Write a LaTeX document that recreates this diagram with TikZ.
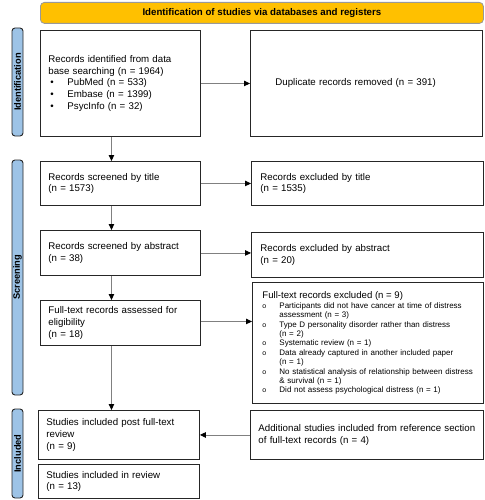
\documentclass[tikz,border=0pt]{standalone}
\usepackage{fontspec}
\setmainfont{Liberation Sans}
\usetikzlibrary{arrows.meta,calc}
\definecolor{bannerfill}{HTML}{FFC000}
\definecolor{sidefill}{HTML}{9DC3E6}
\definecolor{arrgray}{HTML}{808080}
\newcommand{\mybul}{\makebox[19pt][l]{\hspace{2pt}\textbullet}}
\newcommand{\mycirc}{\makebox[17pt][l]{{\fontsize{7}{7}\selectfont o}}}
\newcommand{\itm}[1]{\mbox{\mycirc #1}}
\newcommand{\cnt}[1]{\mbox{\hspace*{17pt}#1}}
\begin{document}
\begin{tikzpicture}[x=1pt,y=-1pt,
  box/.style={draw=black!85, line width=0.9pt, anchor=north west, align=left,
    inner xsep=8pt, inner ysep=2pt, font=\fontsize{9.7}{11.7}\selectfont},
  side/.style={draw=black!85, line width=0.9pt, fill=sidefill, rounded corners=3pt,
    font=\bfseries\fontsize{9.3}{10}\selectfont, rotate=90, inner sep=0.5pt,
    minimum height=11},
  banner/.style={draw=black!40, line width=0.8pt, fill=bannerfill, rounded corners=4pt,
    font=\bfseries\fontsize{9.7}{11}\selectfont, anchor=north west},
  arr/.style={draw=arrgray, line width=0.9pt, -{Triangle[length=6pt,width=5.5pt,color=black]}}
]
\useasboundingbox (0,0) rectangle (484,500);

\node[banner, minimum width=443, minimum height=21] (top) at (40,2)
  {Identification of studies via databases and registers};

\node[side, minimum width=108] (s1) at (17.5,82) {Identification};
\node[side, minimum width=235] (s2) at (17.5,277.5) {Screening};
\node[side, minimum width=89] (s3) at (17.5,453.5) {Included};

\node[box, minimum height=106, text width=144] (b1) at (40,30)
  {Records identified from data\\
   base searching (n = 1964)\\
   \mybul PubMed (n = 533)\\
   \mybul Embase (n = 1399)\\
   \mybul PsycInfo (n = 32)\\[-3pt]};
\node[box, minimum height=106, inner xsep=25pt, text width=182] (b2) at (250,30)
  {Duplicate records removed (n = 391)};

\node[box, minimum height=44, text width=144] (b3) at (40,161)
  {Records screened by title\\(n = 1573)};
\node[box, minimum height=44, inner xsep=9pt, text width=214] (b4) at (251,161)
  {Records excluded by title\\(n = 1535)};

\node[box, minimum height=45, text width=144] (b5) at (40,230)
  {Records screened by abstract\\(n = 38)};
\node[box, minimum height=45, inner xsep=9pt, text width=214] (b6) at (251,232)
  {Records excluded by abstract\\(n = 20)};

\node[box, minimum height=45, text width=144] (b7) at (40,300)
  {Full-text records assessed for\\eligibility\\(n = 18)};
\node[box, minimum height=121, inner xsep=10pt, text width=211,
      font=\fontsize{8}{9.4}\selectfont] (b8) at (252,282)
  {{\fontsize{9.6}{11.7}\selectfont Full-text records excluded (n = 9)}\\[0.5pt]
   \itm{Participants did not have cancer at time of distress}\\
   \cnt{assessment (n = 3)}\\
   \itm{Type D personality disorder rather than distress}\\
   \cnt{(n = 2)}\\
   \itm{Systematic review (n = 1)}\\
   \itm{Data already captured in another included paper}\\
   \cnt{(n = 1)}\\
   \itm{No statistical analysis of relationship between distress}\\
   \cnt{\& survival (n = 1)}\\
   \itm{Did not assess psychological distress (n = 1)}};

\node[box, minimum height=49, text width=145] (b9) at (38,410)
  {Studies included post full-text\\review\\(n = 9)};
\node[box, minimum height=49, text width=217] (b10) at (250,410)
  {Additional studies included from reference section\\of full-text records (n = 4)};

\node[box, minimum height=34, text width=145] (b11) at (38,464)
  {Studies included in review\\(n = 13)};

% arrows
\draw[arr] (b1.east) -- (b2.west);
\draw[arr] (b3.east) -- (b4.west);
\draw[arr] (b5.east) -- (b5.east -| b6.west);
\draw[arr] ([yshift=1.5pt]b7.east) -- ([yshift=1.5pt]b7.east -| b8.west);
\draw[arr] (b10.west) -- (b9.east);
\draw[arr] ([xshift=-9pt]b1.south) -- ([xshift=-9pt]b1.south |- b3.north);
\draw[arr] ([xshift=-9pt]b3.south) -- ([xshift=-9pt]b3.south |- b5.north);
\draw[arr] ([xshift=-9pt]b5.south) -- ([xshift=-9pt]b5.south |- b7.north);
\draw[arr] ([xshift=-9pt]b7.south) -- ([xshift=-9pt]b7.south |- b9.north);
\end{tikzpicture}
\end{document}
